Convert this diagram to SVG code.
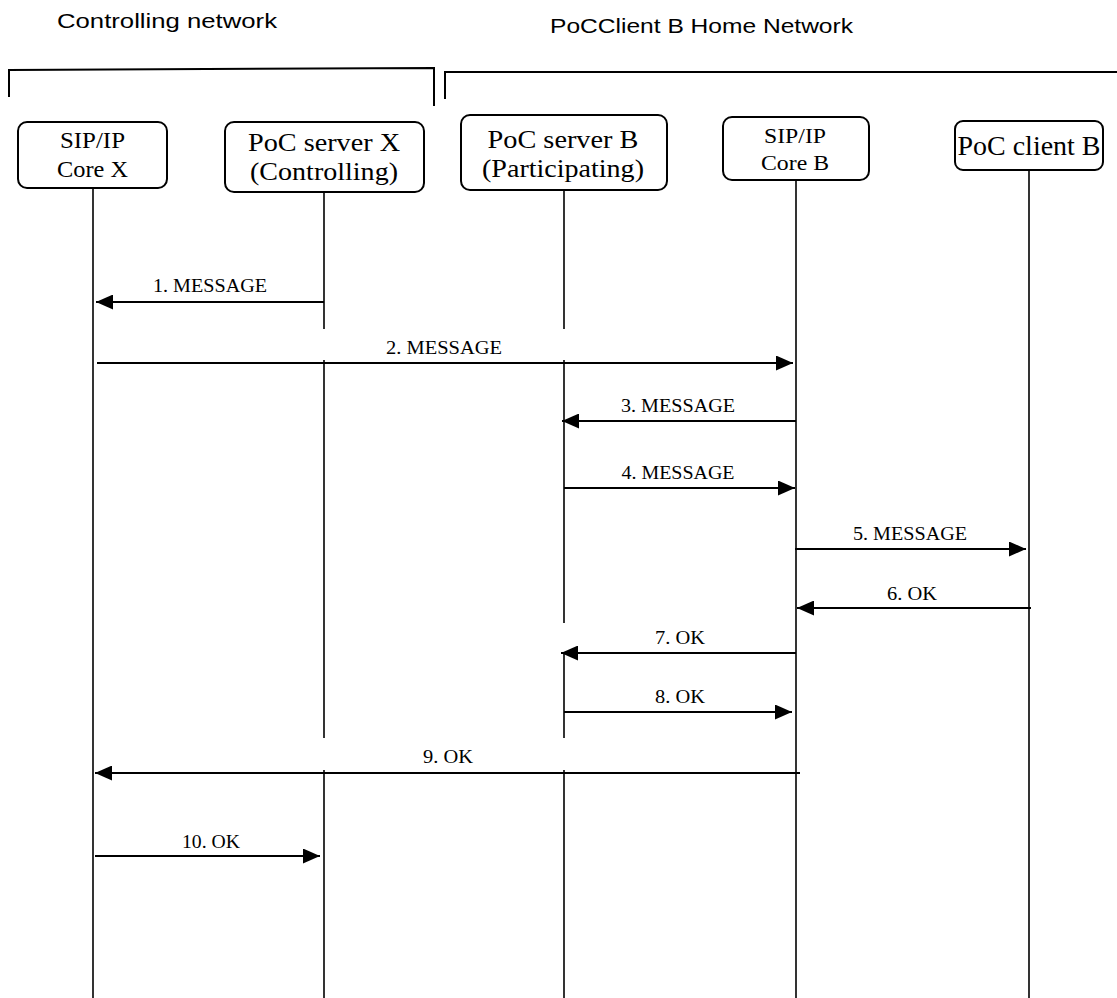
<svg xmlns="http://www.w3.org/2000/svg" width="1117" height="998" viewBox="0 0 1117 998">
<style>
.box{fill:#fff;stroke:#000;stroke-width:2}
.nt{font-family:"Liberation Serif","Times New Roman",serif;fill:#000;text-anchor:middle}
.hd{font-family:"Liberation Sans",Arial,sans-serif;fill:#000}
.ml{font-family:"Liberation Serif","Times New Roman",serif;font-size:19px;fill:#000;text-anchor:middle}
.life{stroke:#000;stroke-width:1.6;fill:none}
.msg{stroke:#000;stroke-width:2;fill:none;marker-end:url(#ah)}
.br{stroke:#000;stroke-width:2;fill:none}
</style>
<defs>
<marker id="ah" markerWidth="17" markerHeight="15" refX="17" refY="7.5" orient="auto" markerUnits="userSpaceOnUse">
<path d="M0,0 L17,7.5 L0,15 z" fill="#000"/>
</marker>
</defs>
<rect width="1117" height="998" fill="#fff"/>
<g id="headings">
<text class="hd" x="57" y="28" font-size="20" textLength="220" lengthAdjust="spacingAndGlyphs">Controlling network</text>
<text class="hd" x="550" y="33" font-size="21" textLength="303" lengthAdjust="spacingAndGlyphs">PoCClient B Home Network</text>
<polyline class="br" points="9,97 9,70 434,68 434,106"/>
<polyline class="br" points="445,99 445,72 1117,72"/>
</g>
<g id="lifelines">
<line class="life" x1="93" y1="188" x2="93" y2="998"/>
<line class="life" x1="324" y1="192" x2="324" y2="329"/>
<line class="life" x1="324" y1="360" x2="324" y2="738"/>
<line class="life" x1="324" y1="770" x2="324" y2="998"/>
<line class="life" x1="564" y1="190" x2="564" y2="329"/>
<line class="life" x1="564" y1="360" x2="564" y2="623"/>
<line class="life" x1="564" y1="652" x2="564" y2="738"/>
<line class="life" x1="564" y1="770" x2="564" y2="998"/>
<line class="life" x1="796" y1="180" x2="796" y2="998"/>
<line class="life" x1="1029" y1="170" x2="1029" y2="998"/>
</g>
<g id="node-core-x">
<rect class="box" x="18" y="122" width="149" height="66" rx="9"/>
<text class="nt" x="92.5" y="148" font-size="23" textLength="65" lengthAdjust="spacingAndGlyphs">SIP/IP</text>
<text class="nt" x="92.5" y="177" font-size="23" textLength="71" lengthAdjust="spacingAndGlyphs">Core X</text>
</g>
<g id="node-server-x">
<rect class="box" x="225" y="122" width="199" height="70" rx="9"/>
<text class="nt" x="324" y="151" font-size="26" textLength="152" lengthAdjust="spacingAndGlyphs">PoC server X</text>
<text class="nt" x="324" y="180" font-size="26" textLength="148" lengthAdjust="spacingAndGlyphs">(Controlling)</text>
</g>
<g id="node-server-b">
<rect class="box" x="461" y="115" width="206" height="75" rx="9"/>
<text class="nt" x="563" y="148" font-size="26" textLength="151" lengthAdjust="spacingAndGlyphs">PoC server B</text>
<text class="nt" x="563" y="177" font-size="26" textLength="162" lengthAdjust="spacingAndGlyphs">(Participating)</text>
</g>
<g id="node-core-b">
<rect class="box" x="723" y="117" width="146" height="63" rx="9"/>
<text class="nt" x="795" y="143" font-size="22" textLength="62" lengthAdjust="spacingAndGlyphs">SIP/IP</text>
<text class="nt" x="795" y="170" font-size="22" textLength="68" lengthAdjust="spacingAndGlyphs">Core B</text>
</g>
<g id="node-client-b">
<rect class="box" x="955" y="121" width="148" height="49" rx="8"/>
<text class="nt" x="1029" y="155" font-size="27" textLength="143" lengthAdjust="spacingAndGlyphs">PoC client B</text>
</g>
<g id="connectors">
<line class="msg" x1="324" y1="302" x2="96" y2="302"/>
<text class="ml" x="210" y="292" textLength="114" lengthAdjust="spacingAndGlyphs">1. MESSAGE</text>
<line class="msg" x1="97" y1="363" x2="793" y2="363"/>
<text class="ml" x="444" y="354" textLength="116" lengthAdjust="spacingAndGlyphs">2. MESSAGE</text>
<line class="msg" x1="796" y1="421" x2="562" y2="421"/>
<text class="ml" x="678" y="412" textLength="114" lengthAdjust="spacingAndGlyphs">3. MESSAGE</text>
<line class="msg" x1="564" y1="488" x2="795" y2="488"/>
<text class="ml" x="678" y="479" textLength="113" lengthAdjust="spacingAndGlyphs">4. MESSAGE</text>
<line class="msg" x1="795" y1="549" x2="1026" y2="549"/>
<text class="ml" x="910" y="540" textLength="114" lengthAdjust="spacingAndGlyphs">5. MESSAGE</text>
<line class="msg" x1="1031" y1="608" x2="797" y2="608"/>
<text class="ml" x="912" y="600" textLength="50" lengthAdjust="spacingAndGlyphs">6. OK</text>
<line class="msg" x1="796" y1="653" x2="561" y2="653"/>
<text class="ml" x="680" y="644" textLength="50" lengthAdjust="spacingAndGlyphs">7. OK</text>
<line class="msg" x1="564" y1="712" x2="792" y2="712"/>
<text class="ml" x="680" y="703" textLength="50" lengthAdjust="spacingAndGlyphs">8. OK</text>
<line class="msg" x1="800" y1="773" x2="95" y2="773"/>
<text class="ml" x="448" y="763" textLength="50" lengthAdjust="spacingAndGlyphs">9. OK</text>
<line class="msg" x1="95" y1="856" x2="320" y2="856"/>
<text class="ml" x="211" y="848" textLength="58" lengthAdjust="spacingAndGlyphs">10. OK</text>
</g>
</svg>
